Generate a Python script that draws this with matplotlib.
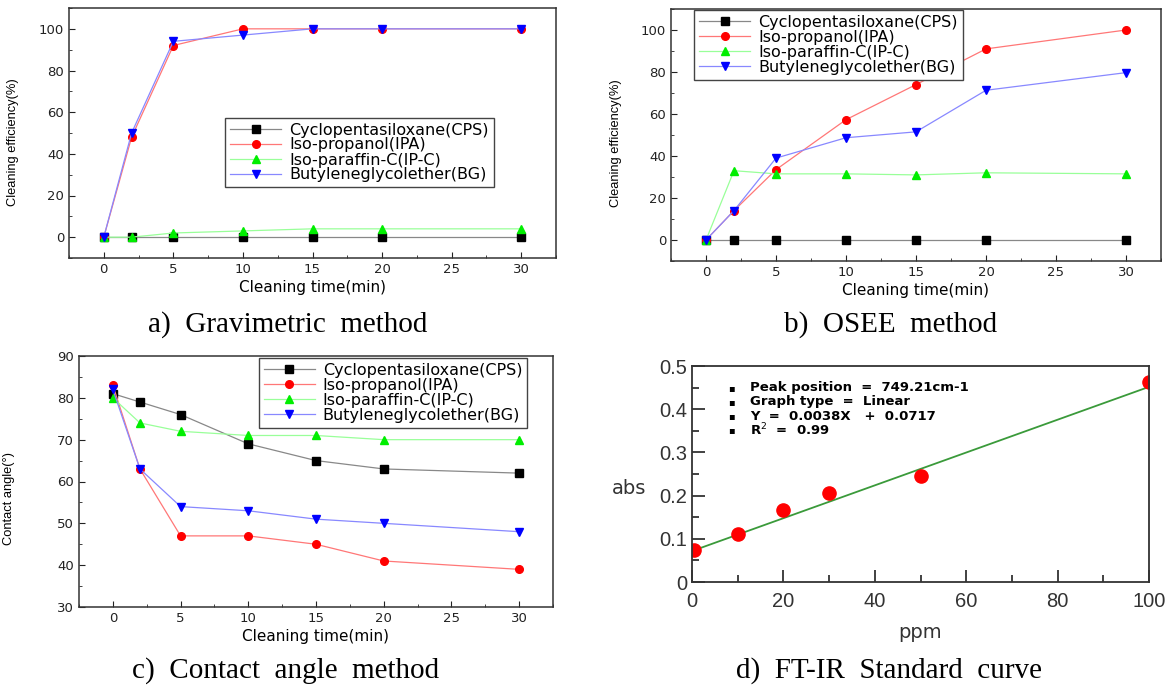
import numpy as np
import matplotlib.pyplot as plt
from matplotlib.ticker import MultipleLocator

W, H = 1166, 686

times = [0, 2, 5, 10, 15, 20, 30]
names = ['Cyclopentasiloxane(CPS)', 'Iso-propanol(IPA)',
         'Iso-paraffin-C(IP-C)', 'Butyleneglycolether(BG)']

grav_cps = [0, 0, 0, 0, 0, 0, 0]
grav_ipa = [0, 48, 92, 100, 100, 100, 100]
grav_ipc = [0, 0, 2, 3, 4, 4, 4]
grav_bg = [0, 50, 94, 97, 100, 100, 100]

osee_cps = [0, 0, 0, 0, 0, 0, 0]
osee_ipa = [0, 14, 33.5, 57.3, 74, 91, 100]
osee_ipc = [0, 33, 31.5, 31.5, 31, 32, 31.5]
osee_bg = [0, 14, 39, 48.7, 51.5, 71.3, 79.7]

angle_cps = [81, 79, 76, 69, 65, 63, 62]
angle_ipa = [83, 63, 47, 47, 45, 41, 39]
angle_ipc = [80, 74, 72, 71, 71, 70, 70]
angle_bg = [82, 63, 54, 53, 51, 50, 48]

ppm = [0.5, 10, 20, 30, 50, 100]
absorb = [0.075, 0.11, 0.167, 0.207, 0.245, 0.462]
fit_slope, fit_icpt = 0.0038, 0.0717

markers = ['s', 'o', '^', 'v']
mcolors = ['black', 'red', '#00ee00', 'blue']
lcolors = ['#888888', '#ff7777', '#99ff99', '#8888ff']

fig = plt.figure(figsize=(W / 100, H / 100), dpi=100)


def px_axes(x0, y0, x1, y1):
    return fig.add_axes([x0 / W, 1 - y1 / H, (x1 - x0) / W, (y1 - y0) / H])


def cleaning_panel(ax, series, ylim, ymaj, ymin, ylabel, ylab_pos, leg_box):
    for i, ys in enumerate(series):
        ax.plot(times, ys, color=lcolors[i], lw=0.9, marker=markers[i],
                mfc=mcolors[i], mec=mcolors[i], ms=5.5, label=names[i])
    ax.set_xlim(-2.5, 32.5)
    ax.set_ylim(*ylim)
    ax.xaxis.set_major_locator(MultipleLocator(5))
    ax.xaxis.set_minor_locator(MultipleLocator(2.5))
    ax.yaxis.set_major_locator(MultipleLocator(ymaj))
    ax.yaxis.set_minor_locator(MultipleLocator(ymin))
    ax.tick_params(which='both', direction='in', top=False, right=False,
                   labelsize=9.5, colors='#222222')
    ax.tick_params(which='major', length=4)
    ax.tick_params(which='minor', length=2.5)
    for s in ax.spines.values():
        s.set_linewidth(1.1)
        s.set_color('#333333')
    ax.set_xlabel('Cleaning time(min)', fontsize=11, labelpad=3)
    ax.set_ylabel(ylabel, fontsize=9.3, family=['Liberation Sans', 'DejaVu Sans'])
    ax.yaxis.set_label_coords(*ylab_pos)
    x0, y0, x1, y1 = leg_box
    bb = ax.get_position()
    lx = (x0 / W - bb.x0) / bb.width
    ly = (1 - y1 / H - bb.y0) / bb.height
    lw = (x1 - x0) / W / bb.width
    lh = (y1 - y0) / H / bb.height
    leg = ax.legend(loc='center', bbox_to_anchor=(lx, ly, lw, lh), fontsize=11.5,
                    frameon=True, fancybox=False, edgecolor='#444444',
                    handlelength=3.2, handletextpad=0.5, labelspacing=0.0,
                    borderpad=0.3, borderaxespad=0, framealpha=1)
    leg.get_frame().set_linewidth(1.0)


ax_a = px_axes(69, 8, 556, 258)
cleaning_panel(ax_a, [grav_cps, grav_ipa, grav_ipc, grav_bg], (-10, 110), 20, 10,
               'Cleaning efficiency(%)', (-0.103, 0.464), (215, 119, 504, 186))

ax_b = px_axes(671, 9, 1161, 261)
cleaning_panel(ax_b, [osee_cps, osee_ipa, osee_ipc, osee_bg], (-10, 110), 20, 10,
               'Cleaning efficiency(%)', (-0.099, 0.468), (683, 12, 974, 78))

ax_c = px_axes(79, 356, 553, 607)
cleaning_panel(ax_c, [angle_cps, angle_ipa, angle_ipc, angle_bg], (30, 90), 10, 5,
               'Contact angle(°)', (-0.135, 0.434), (254, 360, 532, 426))

# d) FT-IR standard curve
ax_d = px_axes(692, 366, 1149, 582)
fx = np.array([0, 100])
ax_d.plot(fx, fit_slope * fx + fit_icpt, color='#3a9a3a', lw=1.3)
ax_d.plot(ppm, absorb, 'o', color='red', ms=9.5, mec='red')
ax_d.set_xlim(0, 100)
ax_d.set_ylim(0, 0.5)
ax_d.xaxis.set_major_locator(MultipleLocator(20))
ax_d.xaxis.set_minor_locator(MultipleLocator(10))
ax_d.yaxis.set_major_locator(MultipleLocator(0.1))
ax_d.yaxis.set_minor_locator(MultipleLocator(0.05))
ax_d.set_yticks([0, 0.1, 0.2, 0.3, 0.4, 0.5])
ax_d.set_yticklabels(['0', '0.1', '0.2', '0.3', '0.4', '0.5'])
ax_d.tick_params(which='both', direction='in', top=False, right=False,
                 labelsize=14.5, colors='#333333', width=1.3,
                 labelfontfamily='Liberation Sans')
ax_d.tick_params(which='major', length=9)
ax_d.tick_params(which='minor', length=5)
ax_d.tick_params(axis='x', pad=7)
for s in ax_d.spines.values():
    s.set_linewidth(1.3)
    s.set_color('#333333')
ax_d.set_xlabel('ppm', fontsize=14, color='#333333', labelpad=9)
ax_d.set_ylabel('abs', fontsize=14, color='#333333', rotation=0,
                va='center', ha='center')
ax_d.yaxis.set_label_coords(-0.137, 0.435)
info = ['Peak position  =  749.21cm-1', 'Graph type  =  Linear',
        'Y  =  0.0038X   +  0.0717', 'R$^2$  =  0.99']
for i, t in enumerate(info):
    yy = 1 - (388 + 14 * i - 366) / 216
    ax_d.text((731 - 692) / 457, yy, '▪', transform=ax_d.transAxes,
              fontsize=7, va='center', ha='center')
    ax_d.text((750 - 692) / 457, yy, t, transform=ax_d.transAxes,
              fontsize=9.5, fontweight='bold', va='center', ha='left')

cap_font = ['Liberation Serif', 'DejaVu Serif']
fig.text(288 / W, 1 - 325 / H, 'a)  Gravimetric  method', fontsize=21,
         family=cap_font, ha='center', va='center')
fig.text(891 / W, 1 - 325 / H, 'b)  OSEE  method', fontsize=21,
         family=cap_font, ha='center', va='center')
fig.text(286 / W, 1 - 671 / H, 'c)  Contact  angle  method', fontsize=21,
         family=cap_font, ha='center', va='center')
fig.text(889 / W, 1 - 671 / H, 'd)  FT-IR  Standard  curve', fontsize=21,
         family=cap_font, ha='center', va='center')

fig.savefig('out.png', dpi=100)
